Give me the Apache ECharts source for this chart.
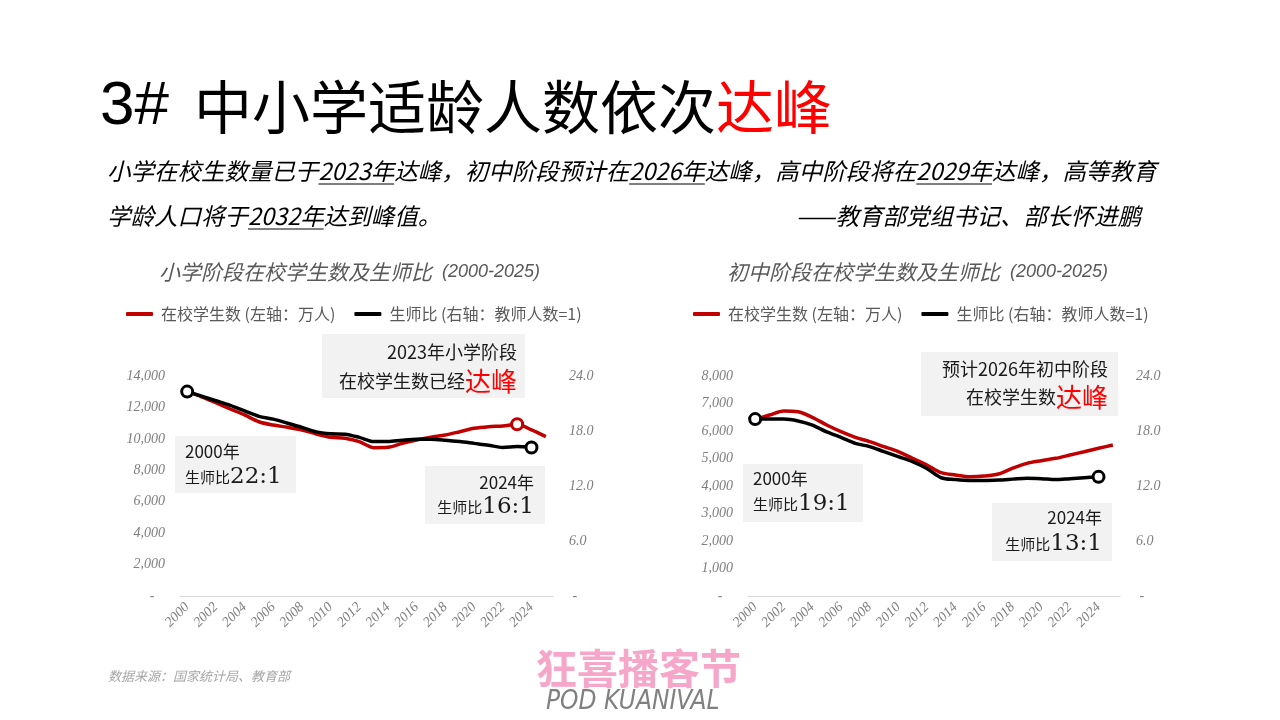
<!DOCTYPE html>
<html>
<head>
<meta charset="utf-8">
<title>中小学适龄人数依次达峰</title>
<script src="https://cdn.jsdelivr.net/npm/echarts@6/dist/echarts.min.js"></script>
<style>
html, body { margin: 0; padding: 0; background: #fff; }
#chart { width: 1280px; height: 720px; }
</style>
</head>
<body>
<div id="chart"></div>
<script>
// 年份（类目轴）
const years = ['2000', '2001', '2002', '2003', '2004', '2005', '2006', '2007', '2008', '2009',
    '2010', '2011', '2012', '2013', '2014', '2015', '2016', '2017', '2018', '2019',
    '2020', '2021', '2022', '2023', '2024', '2025']

// 小学：在校学生数（万人）、生师比
const primaryStudents = [13000, 12680, 12300, 11900, 11520, 11090, 10880, 10735, 10565, 10310,
    10100, 10035, 9820, 9440, 9460, 9715, 9930, 10100, 10245, 10455,
    10670, 10775, 10820, 10925, 10565, 10140]
const primaryRatio = [22.3, 21.8, 21.3, 20.8, 20.2, 19.6, 19.3, 18.85, 18.4, 17.9,
    17.7, 17.65, 17.3, 16.85, 16.85, 17.0, 17.1, 17.1, 17.0, 16.85,
    16.65, 16.45, 16.2, 16.3, 16.2]

// 初中：在校学生数（万人）、生师比
const juniorStudents = [6425, 6580, 6727, 6700, 6497, 6218, 5976, 5770, 5612, 5430,
    5248, 5006, 4764, 4485, 4400, 4339, 4363, 4436, 4650, 4824,
    4920, 5006, 5127, 5248, 5370, 5490]
const juniorRatio = [19.3, 19.3, 19.3, 19.1, 18.65, 17.9, 17.3, 16.65, 16.3, 15.75,
    15.2, 14.65, 13.9, 12.9, 12.7, 12.6, 12.6, 12.65, 12.75, 12.85,
    12.8, 12.7, 12.8, 12.9, 13.0]

// 坐标轴刻度
const primaryLeftTicks = { min: 0, max: 14000, interval: 2000 }
const juniorLeftTicks = { min: 0, max: 8000, interval: 1000 }
const ratioTicks = { min: 0, max: 24, interval: 6 }

const legendNames = ['在校学生数 (左轴：万人)', '生师比 (右轴：教师人数=1)']

const RED = '#C00000'
const BLACK = '#000000'
const GRAY = '#7f7f7f'
const CJK = '"Noto Sans CJK SC"'
const SERIF = '"Liberation Serif"'

// 空心圆标记
function withMarkers (values, idxs, color) {
    return values.map((v, i) => idxs.includes(i)
        ? { value: v, symbol: 'circle', symbolSize: 11, itemStyle: { color: '#fff', borderColor: color, borderWidth: 3 } }
        : { value: v, symbol: 'none' })
}

function xAxisOf (gridIndex) {
    return {
        type: 'category',
        gridIndex,
        data: years,
        boundaryGap: true,
        axisLine: { lineStyle: { color: '#d9d9d9', width: 1 } },
        axisTick: { show: false },
        axisLabel: {
            interval: 1,
            rotate: 45,
            margin: 9,
            color: GRAY,
            fontSize: 14,
            fontStyle: 'italic',
            fontFamily: SERIF
        }
    }
}

function yAxisOf (gridIndex, position, ticks, fmt) {
    return Object.assign({
        type: 'value',
        gridIndex,
        position,
        splitLine: { show: false },
        axisLine: { show: false },
        axisTick: { show: false },
        axisLabel: {
            margin: position === 'left' ? 15 : 16,
            color: GRAY,
            fontSize: 14,
            fontStyle: 'italic',
            fontFamily: SERIF,
            formatter: fmt
        }
    }, ticks)
}

const countFmt = v => v === 0 ? '-   ' : v.toLocaleString('en-US')
const ratioFmt = v => v === 0 ? ' -' : v.toFixed(1)

function lineSeries (name, data, xi, yi, color) {
    return {
        name,
        type: 'line',
        xAxisIndex: xi,
        yAxisIndex: yi,
        data,
        color,
        smooth: 0.3,
        showSymbol: true,
        showAllSymbol: true,
        lineStyle: { width: 3.5, color },
        emphasis: { disabled: true },
        z: 3
    }
}

// 文字测量（用于副标题下划线）
const measureCtx = document.createElement('canvas').getContext('2d')
function textWidth (str, font) {
    measureCtx.font = font
    return measureCtx.measureText(str).width
}

const subFont = 'italic 23.5px ' + CJK
function subtitleLine (segments, x0, y) {
    const els = []
    let x = x0
    segments.forEach(seg => {
        const w = textWidth(seg[0], subFont)
        els.push({ type: 'text', x, y, style: { text: seg[0], font: subFont, fill: '#000', align: 'left', verticalAlign: 'middle' } })
        if (seg[1]) {
            els.push({ type: 'line', shape: { x1: x, y1: y + 13, x2: x + w, y2: y + 13 }, style: { stroke: '#000', lineWidth: 1 } })
        }
        x += w
    })
    return els
}

const sub1 = [['小学在校生数量已于'], ['2023年', true], ['达峰，初中阶段预计在'], ['2026年', true],
    ['达峰，高中阶段将在'], ['2029年', true], ['达峰，高等教育']]
const sub2 = [['学龄人口将于'], ['2032年', true], ['达到峰值。']]

// 注释框
const noteRich = {
    n: { fontSize: 18, fontFamily: CJK, fill: '#1a1a1a', color: '#1a1a1a' },
    y: { fontSize: 17, fontFamily: CJK, fill: '#1a1a1a', color: '#1a1a1a' },
    s: { fontSize: 15, fontFamily: CJK, fill: '#1a1a1a', color: '#1a1a1a' },
    b: { fontSize: 23, fontFamily: '"DejaVu Serif"', fill: '#1a1a1a', color: '#1a1a1a' },
    r: { fontSize: 26, fontFamily: CJK, fill: '#ff0000', color: '#ff0000' }
}
function noteBox (rect, x, y1, y2, align, line1, line2) {
    return [
        { type: 'rect', shape: rect, style: { fill: '#f2f2f2' }, z: 1 },
        { type: 'text', x, y: y1, z: 2, style: { text: line1, align, verticalAlign: 'middle', rich: noteRich, fill: '#1a1a1a' } },
        { type: 'text', x, y: y2, z: 2, style: { text: line2, align, verticalAlign: 'middle', rich: noteRich, fill: '#1a1a1a' } }
    ]
}

function chartTitle (x, main) {
    return {
        type: 'text', x, y: 272,
        style: {
            text: '{t|' + main + '}{p|  (2000-2025)}',
            verticalAlign: 'middle',
            rich: {
                t: { fontSize: 21, fontStyle: 'italic', fontFamily: CJK, fill: '#595959', color: '#595959' },
                p: { fontSize: 18, fontStyle: 'italic', fontFamily: '"Liberation Sans"', fill: '#595959', color: '#595959' }
            }
        }
    }
}

function legendOf (left) {
    return {
        left,
        top: 301,
        data: [
            { name: legendNames[0], itemStyle: { color: RED } },
            { name: legendNames[1], itemStyle: { color: BLACK } }
        ],
        icon: 'roundRect',
        itemWidth: 27,
        itemHeight: 4,
        itemGap: 19,
        selectedMode: false,
        textStyle: { fontSize: 16, color: '#595959', fontFamily: CJK, padding: [0, 0, 0, 3] }
    }
}

const chart = echarts.init(document.getElementById('chart'), null, { renderer: 'canvas' })

const option = {
    animation: false,
    backgroundColor: '#fff',
    legend: [legendOf(121), legendOf(688)],
    grid: [
        { left: 180, right: 727, top: 376, bottom: 124 },
        { left: 748, right: 160, top: 376, bottom: 124 }
    ],
    xAxis: [xAxisOf(0), xAxisOf(1)],
    yAxis: [
        yAxisOf(0, 'left', primaryLeftTicks, countFmt),
        yAxisOf(0, 'right', ratioTicks, ratioFmt),
        yAxisOf(1, 'left', juniorLeftTicks, countFmt),
        yAxisOf(1, 'right', ratioTicks, ratioFmt)
    ],
    series: [
        lineSeries(legendNames[0], withMarkers(primaryStudents, [23], RED), 0, 0, RED),
        lineSeries(legendNames[1], withMarkers(primaryRatio, [0, 24], BLACK), 0, 1, BLACK),
        lineSeries(legendNames[0], withMarkers(juniorStudents, [], RED), 1, 2, RED),
        lineSeries(legendNames[1], withMarkers(juniorRatio, [0, 24], BLACK), 1, 3, BLACK)
    ],
    graphic: [
        // 大标题
        { type: 'text', x: 100, y: 107, style: { text: '3#', font: '62px "Liberation Sans"', fill: '#000', verticalAlign: 'middle' } },
        {
            type: 'text', x: 194, y: 107,
            style: {
                text: '{c|中小学适龄人数依次}{r|达峰}',
                verticalAlign: 'middle',
                rich: {
                    c: { fontSize: 58, fontFamily: CJK, fill: '#000', color: '#000' },
                    r: { fontSize: 58, fontFamily: CJK, fill: '#ff0000', color: '#ff0000' }
                }
            }
        },
        ...subtitleLine(sub1, 107, 171),
        ...subtitleLine(sub2, 107, 216),
        { type: 'text', x: 1141, y: 216, style: { text: '——教育部党组书记、部长怀进鹏', font: subFont, fill: '#000', align: 'right', verticalAlign: 'middle' } },

        chartTitle(159, '小学阶段在校学生数及生师比'),
        chartTitle(727, '初中阶段在校学生数及生师比'),

        ...noteBox({ x: 322, y: 334, width: 203, height: 64 }, 517, 352, 381, 'right',
            '{n|2023年小学阶段}', '{n|在校学生数已经}{r|达峰}'),
        ...noteBox({ x: 175, y: 436, width: 121, height: 57 }, 185, 452, 477, 'left',
            '{y|2000年}', '{s|生师比}{b|22:1}'),
        ...noteBox({ x: 425, y: 466, width: 120, height: 58 }, 534, 483, 507, 'right',
            '{y|2024年}', '{s|生师比}{b|16:1}'),
        ...noteBox({ x: 921, y: 352, width: 197, height: 64 }, 1108, 369, 397, 'right',
            '{n|预计2026年初中阶段}', '{n|在校学生数}{r|达峰}'),
        ...noteBox({ x: 743, y: 464, width: 120, height: 58 }, 753, 479, 504, 'left',
            '{y|2000年}', '{s|生师比}{b|19:1}'),
        ...noteBox({ x: 992, y: 503, width: 120, height: 58 }, 1102, 518, 544, 'right',
            '{y|2024年}', '{s|生师比}{b|13:1}'),

        // 数据来源
        { type: 'text', x: 108, y: 676, style: { text: '数据来源：国家统计局、教育部', font: 'italic 13px ' + CJK, fill: '#a6a6a6', verticalAlign: 'middle' } },

        // 标志
        { type: 'text', x: 536, y: 668, style: { text: '狂喜播客节', font: 'bold 41px ' + CJK, fill: '#f6a6c9', verticalAlign: 'middle' } },
        { type: 'text', x: 546, y: 702, style: { text: 'POD KUANIVAL', font: 'italic 26px "DejaVu Sans Condensed", "DejaVu Sans"', fill: '#808080', verticalAlign: 'middle' } }
    ]
}

chart.setOption(option)
</script>
</body>
</html>
